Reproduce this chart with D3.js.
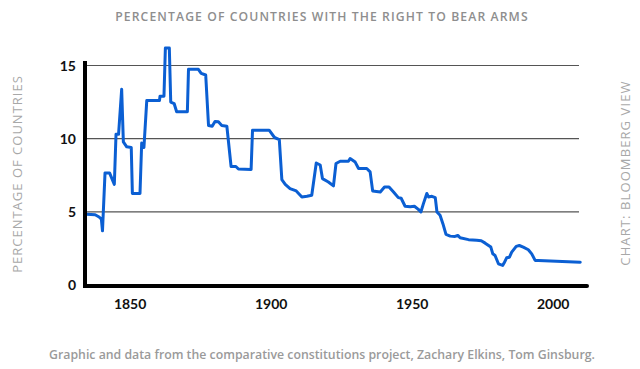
<!DOCTYPE html>
<html lang="en">
<head>
<meta charset="UTF-8">
<title>Right to bear arms</title>
<script src="https://d3js.org/d3.v7.min.js"></script>
<style>
  body { margin: 0; background: #fff; }
  text { font-family: 'Open Sans', sans-serif; }
  .tick-lbl { font-family: 'Lato', sans-serif; font-weight: 700; font-size: 14px; fill: #111; }
</style>
</head>
<body>
<div id="chart"></div>
<script>
// values (year, percent of countries)
var years = [1834.6, 1837.6, 1839, 1839.8, 1840.2, 1841.1, 1842.7, 1844.4, 1845, 1845.9,
  1847, 1847.6, 1848.8, 1850.4, 1850.8, 1853.5, 1854.1, 1854.9, 1855.9, 1860.4,
  1860.6, 1862, 1862.5, 1863.9, 1864.4, 1865.6, 1866.5, 1870.3, 1870.7, 1874.2,
  1875.2, 1876.8, 1877.8, 1879.1, 1880.1, 1881.3, 1882.5, 1884.3, 1885.8, 1887.5,
  1888.4, 1892.9, 1893.4, 1899.3, 1901.2, 1902.9, 1903.8, 1905, 1906.7, 1908.9,
  1910.9, 1912.7, 1914.4, 1916, 1917.4, 1918.2, 1920.3, 1922.1, 1923, 1924.5,
  1927.4, 1928, 1929.8, 1931, 1933.9, 1935.1, 1936, 1938.7, 1940.2, 1941.8,
  1943.4, 1945.1, 1946.1, 1947.5, 1949.3, 1950.8, 1952.2, 1953.1, 1954, 1955.2,
  1955.8, 1957, 1958.2, 1958.8, 1959.9, 1960.9, 1962, 1963.5, 1965.2, 1966.2,
  1967, 1970, 1972.9, 1974.5, 1975.9, 1977.9, 1978.6, 1979.4, 1980.6, 1982.1,
  1982.6, 1983.5, 1984.5, 1985.3, 1986.9, 1988, 1989.4, 1991.2, 1992.4, 1993.6,
  1994.8, 2009.6];
var pct = [4.83, 4.8, 4.65, 4.5, 3.7, 7.66, 7.66, 6.88, 10.3, 10.3,
  13.37, 9.78, 9.44, 9.4, 6.25, 6.25, 9.7, 9.4, 12.6, 12.6,
  12.9, 12.9, 16.2, 16.2, 12.5, 12.4, 11.84, 11.84, 14.74, 14.74,
  14.46, 14.35, 10.9, 10.85, 11.18, 11.15, 10.9, 10.85, 8.1, 8.1,
  7.93, 7.9, 10.58, 10.58, 10.08, 9.94, 7.2, 6.88, 6.59, 6.43,
  6.02, 6.06, 6.13, 8.34, 8.2, 7.27, 7.04, 6.77, 8.3, 8.46,
  8.46, 8.64, 8.4, 7.96, 7.96, 7.73, 6.43, 6.36, 6.7, 6.7,
  6.36, 5.97, 5.93, 5.38, 5.35, 5.38, 5.17, 4.99, 5.56, 6.25,
  6.02, 6.06, 5.97, 4.99, 4.76, 4.19, 3.46, 3.34, 3.32, 3.39,
  3.23, 3.1, 3.05, 3.02, 2.86, 2.59, 2.13, 2.02, 1.45, 1.34,
  1.5, 1.86, 1.9, 2.25, 2.64, 2.7, 2.59, 2.41, 2.13, 1.68,
  1.68, 1.56];
var yTicks = [0, 5, 10, 15];
var gridTicks = [5, 10, 15];
var xTicks = [1850, 1900, 1950, 2000];

var W = 640, H = 369;
var svg = d3.select("#chart").append("svg")
  .attr("width", W).attr("height", H);

var x = d3.scaleLinear().domain([1834, 2012]).range([85, 587]);
var y = d3.scaleLinear().domain([0, 15]).range([285, 65.5]);

// title
svg.append("text")
  .attr("x", 322).attr("y", 21)
  .attr("text-anchor", "middle")
  .style("font-size", "12.2px").style("font-weight", 600)
  .style("letter-spacing", "1.1px")
  .attr("fill", "#8e8e8e")
  .text("PERCENTAGE OF COUNTRIES WITH THE RIGHT TO BEAR ARMS");

// gridlines
svg.selectAll(".grid").data(gridTicks).enter().append("line")
  .attr("x1", 85).attr("x2", 579)
  .attr("y1", function(d) { return y(d); })
  .attr("y2", function(d) { return y(d); })
  .attr("stroke", "#555").attr("stroke-width", 1.2);

// y tick labels
svg.selectAll(".ylbl").data(yTicks).enter().append("text")
  .attr("class", "tick-lbl")
  .attr("x", 76)
  .attr("y", function(d) { return y(d); })
  .attr("dy", "0.36em")
  .attr("text-anchor", "end")
  .text(function(d) { return d; });

// x tick labels
svg.selectAll(".xlbl").data(xTicks).enter().append("text")
  .attr("class", "tick-lbl")
  .attr("x", function(d) { return x(d); })
  .attr("y", 309)
  .attr("text-anchor", "middle")
  .text(function(d) { return d; });

// the line
var pts = years.map(function(yr, i) { return [yr, pct[i]]; });
svg.append("path")
  .datum(pts)
  .attr("fill", "none")
  .attr("stroke", "#0b5fd3")
  .attr("stroke-width", 3)
  .attr("stroke-linejoin", "round")
  .attr("stroke-linecap", "round")
  .attr("d", d3.line()
    .x(function(d) { return x(d[0]); })
    .y(function(d) { return y(d[1]); }));

// axes lines
svg.append("line")
  .attr("x1", 85).attr("x2", 85)
  .attr("y1", 61).attr("y2", 288)
  .attr("stroke", "#000").attr("stroke-width", 4);
svg.append("line")
  .attr("x1", 85).attr("x2", 587)
  .attr("y1", y(0) + 1).attr("y2", y(0) + 1)
  .attr("stroke", "#000").attr("stroke-width", 4)
  .attr("stroke-linecap", "round");

// side labels
svg.append("text")
  .attr("transform", "translate(22,174) rotate(-90)")
  .attr("text-anchor", "middle")
  .style("font-size", "13px").style("letter-spacing", "1px")
  .attr("fill", "#a8a8a8")
  .text("PERCENTAGE OF COUNTRIES");

svg.append("text")
  .attr("transform", "translate(630,173) rotate(-90)")
  .attr("text-anchor", "middle")
  .style("font-size", "13px").style("letter-spacing", "1.1px")
  .attr("fill", "#a8a8a8")
  .text("CHART: BLOOMBERG VIEW");

// footer
svg.append("text")
  .attr("x", 322).attr("y", 359)
  .attr("text-anchor", "middle")
  .style("font-size", "12.3px").style("font-weight", 600)
  .attr("fill", "#9a9a9a")
  .text("Graphic and data from the comparative constitutions project, Zachary Elkins, Tom Ginsburg.");
</script>
</body>
</html>
